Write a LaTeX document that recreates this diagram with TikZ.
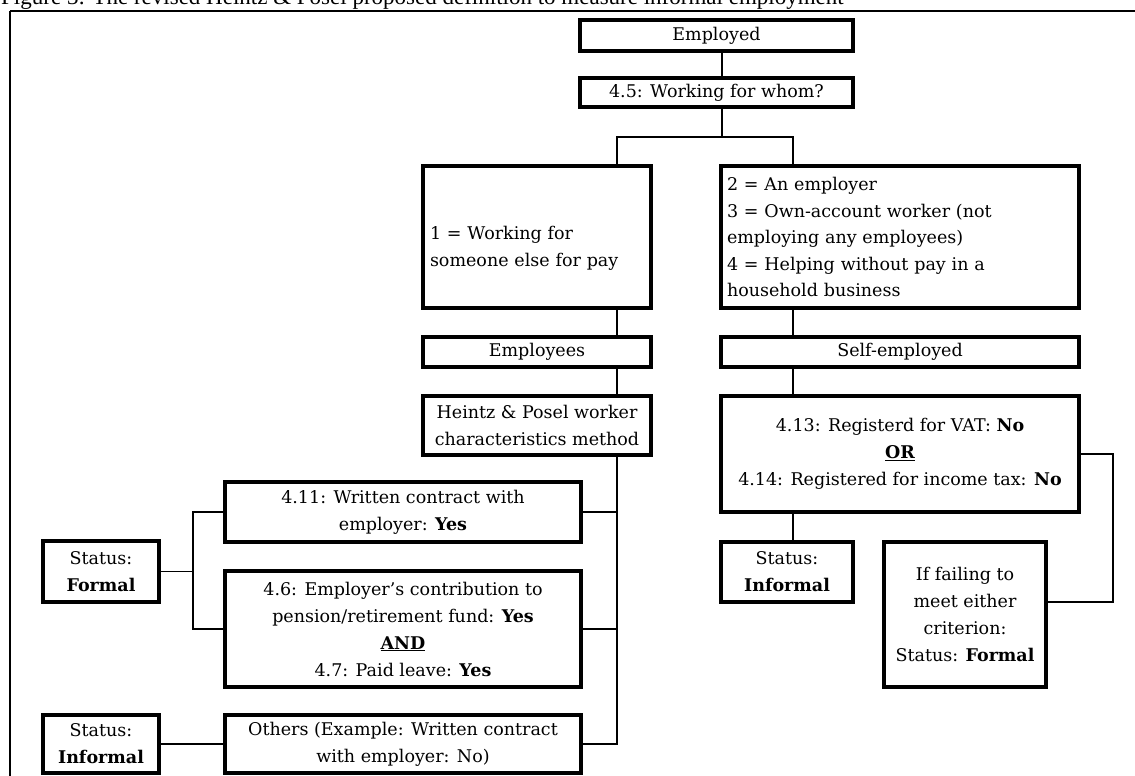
\documentclass[tikz,border=0pt]{standalone}
\usepackage{fontspec}
\setmainfont{DejaVu Serif}
\newfontfamily\capfont{Liberation Serif}
\begin{document}
\begin{tikzpicture}[x=1pt,y=-1pt,
  box/.style={draw, line width=3.2pt, rectangle, inner sep=0pt, align=center,
    font=\fontsize{17.5}{27}\selectfont},
  link/.style={line width=1.4pt},
  frame/.style={line width=1.4pt}
]
\useasboundingbox (0,0) rectangle (1135,776);
\clip (0,0) rectangle (1135,776);

% caption and page frame
\node[anchor=base west, inner sep=0pt, font=\capfont\fontsize{23}{24}\selectfont] (cap) at (1,5)
  {Figure 3: The revised Heintz \& Posel proposed definition to measure informal employment};
\draw[line width=2.6pt] (10,11) -- (1135,11);
\draw[frame] (10,11) -- (10,776);

% top of the tree
\node[box, minimum width=273pt, minimum height=31pt] (emp) at (716.5,35.5) {Employed};
\node[box, minimum width=273pt, minimum height=29pt] (q45) at (716.5,92.5) {4.5: Working for whom?};

% answer categories
\node[box, minimum width=228pt, minimum height=142pt, text width=214pt, align=left] (b1) at (537,237)
  {\rule{0pt}{36pt}1 = Working for\\someone else for pay};
\node[box, minimum width=358pt, minimum height=142pt, text width=346pt, align=left,
  font=\fontsize{17.5}{26.5}\selectfont] (b2) at (900,237)
  {2 = An employer\\3 = Own-account worker (not\\employing any employees)\\4 = Helping without pay in a\\household business};

\node[box, minimum width=228pt, minimum height=30pt] (empl) at (537,352) {Employees};
\node[box, minimum width=358pt, minimum height=30pt] (self) at (900,352) {Self-employed};

\node[box, minimum width=228pt, minimum height=59pt] (hp) at (537,425.5)
  {Heintz \& Posel worker\\characteristics method};
\node[box, minimum width=358pt, minimum height=116pt] (vat) at (900,454)
  {4.13: Registerd for VAT: \textbf{No}\\\underline{\textbf{OR}}\\4.14: Registered for income tax: \textbf{No}};

% employee criteria
\node[box, minimum width=356pt, minimum height=60pt] (c411) at (403,512)
  {4.11: Written contract with\\employer: \textbf{Yes}};
\node[box, minimum width=356pt, minimum height=116pt] (c46) at (403,629)
  {4.6: Employer's contribution to\\pension/retirement fund: \textbf{Yes}\\\underline{\textbf{AND}}\\4.7: Paid leave: \textbf{Yes}};
\node[box, minimum width=356pt, minimum height=58pt] (oth) at (403,744)
  {Others (Example: Written contract\\with employer: No)};

% outcomes
\node[box, minimum width=116pt, minimum height=61pt] (sf) at (101,571.5) {Status:\\\textbf{Formal}};
\node[box, minimum width=116pt, minimum height=58pt] (si) at (101,744) {Status:\\\textbf{Informal}};
\node[box, minimum width=132pt, minimum height=60pt] (si2) at (787,572) {Status:\\\textbf{Informal}};
\node[box, minimum width=162pt, minimum height=145pt] (fail) at (965,614.5)
  {If failing to\\meet either\\criterion:\\Status: \textbf{Formal}};

% routing columns
\coordinate (split) at (722,137);
\coordinate (xl) at (617,0);
\coordinate (xr) at (793,0);
\coordinate (xb) at (193,0);
\coordinate (lp) at (1113,602);

% connectors
\draw[link] (emp.south -| split) -- (q45.north -| split);
\draw[link] (q45.south -| split) -- (split);
\draw[link] (b1.north -| xl) |- (split) -| (b2.north -| xr);

\draw[link] (b1.south -| xl) -- (empl.north -| xl);
\draw[link] (empl.south -| xl) -- (hp.north -| xl);
\draw[link] (hp.south -| xl) |- (oth.east);
\draw[link] (c411.east) -- (c411.east -| xl);
\draw[link] (c46.east) -- (c46.east -| xl);

\draw[link] (c411.west) -| (c46.west -| xb) -- (c46.west);
\draw[link] (sf.east) -- (sf.east -| xb);
\draw[link] (si.east) -- (oth.west);

\draw[link] (b2.south -| xr) -- (self.north -| xr);
\draw[link] (self.south -| xr) -- (vat.north -| xr);
\draw[link] (vat.south -| xr) -- (si2.north -| xr);
\draw[link] (vat.east) -| (lp) -- (lp -| fail.east);
\end{tikzpicture}
\end{document}
